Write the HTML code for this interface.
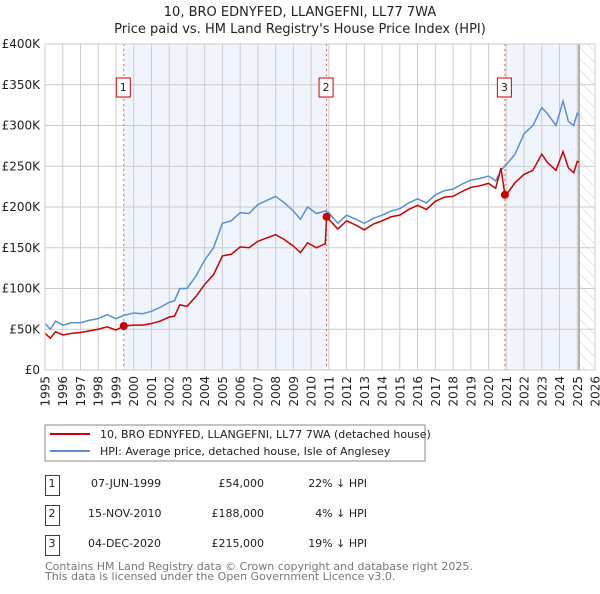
<!DOCTYPE html>
<html><head><meta charset="utf-8"><style>
body{margin:0;background:#fff;font-family:"DejaVu Sans","Liberation Sans",sans-serif;}
svg text{font-family:"DejaVu Sans","Liberation Sans",sans-serif;}
</style></head><body>
<svg id="chart" width="600" height="590" viewBox="0 0 600 590" xmlns="http://www.w3.org/2000/svg">
<defs><pattern id="hatch" width="8" height="8" patternUnits="userSpaceOnUse" patternTransform="rotate(-45)"><line x1="0" y1="0" x2="0" y2="8" stroke="#ccc" stroke-width="1"/></pattern></defs>
<text x="300" y="16" text-anchor="middle" font-size="13" fill="#222">10, BRO EDNYFED, LLANGEFNI, LL77 7WA</text>
<text x="300" y="33" text-anchor="middle" font-size="13" fill="#222">Price paid vs. HM Land Registry's House Price Index (HPI)</text>
<g id="plot"></g>
<rect x="45" y="425" width="380" height="36" fill="#fff" stroke="#888"/>
<line x1="50" y1="434" x2="90" y2="434" stroke="#cc0000" stroke-width="2"/>
<text x="100" y="438" font-size="11" fill="#222">10, BRO EDNYFED, LLANGEFNI, LL77 7WA (detached house)</text>
<line x1="50" y1="451" x2="90" y2="451" stroke="#5b8fd4" stroke-width="2"/>
<text x="100" y="455" font-size="11" fill="#222">HPI: Average price, detached house, Isle of Anglesey</text>
<g font-size="11" fill="#222">
<rect x="45.5" y="475.5" width="14" height="20" fill="none" stroke="#cc0000"/><text x="52" y="487" text-anchor="middle">1</text>
<text x="91" y="487">07-JUN-1999</text><text x="264" y="487" text-anchor="end">£54,000</text><text x="367" y="487" text-anchor="end">22% ↓ HPI</text>
<rect x="45.5" y="505.5" width="14" height="20" fill="none" stroke="#cc0000"/><text x="52" y="517" text-anchor="middle">2</text>
<text x="88" y="517">15-NOV-2010</text><text x="264" y="517" text-anchor="end">£188,000</text><text x="367" y="517" text-anchor="end">4% ↓ HPI</text>
<rect x="45.5" y="535.5" width="14" height="20" fill="none" stroke="#cc0000"/><text x="52" y="547" text-anchor="middle">3</text>
<text x="88" y="547">04-DEC-2020</text><text x="264" y="547" text-anchor="end">£215,000</text><text x="367" y="547" text-anchor="end">19% ↓ HPI</text>
</g>
<text x="45" y="570" font-size="11" fill="#777">Contains HM Land Registry data © Crown copyright and database right 2025.</text>
<text x="45" y="580" font-size="11" fill="#777">This data is licensed under the Open Government Licence v3.0.</text>
</svg>
<script>
const hpiYears=[1995,1995.3,1995.6,1996,1996.5,1997,1997.5,1998,1998.5,1999,1999.44,2000,2000.5,2001,2001.5,2002,2002.3,2002.6,2003,2003.5,2004,2004.5,2005,2005.5,2006,2006.5,2007,2007.5,2008,2008.5,2009,2009.4,2009.8,2010.3,2010.8,2011,2011.5,2012,2012.5,2013,2013.5,2014,2014.5,2015,2015.5,2016,2016.5,2017,2017.5,2018,2018.5,2019,2019.5,2020,2020.4,2020.7,2021,2021.5,2022,2022.5,2023,2023.3,2023.8,2024.2,2024.5,2024.8,2025,2025.1];
const hpiValues=[57,50,60,55,58,58,61,63,68,63,67,70,69,72,77,83,85,100,100,115,135,150,180,183,193,192,203,208,213,205,195,185,200,192,195,193,180,190,185,180,186,190,195,198,205,210,205,215,220,222,228,233,235,238,232,245,252,265,290,300,322,315,300,330,305,300,315,313];
const propYears=[1995,1995.3,1995.6,1996,1996.5,1997,1997.5,1998,1998.5,1999,1999.44,2000,2000.5,2001,2001.5,2002,2002.3,2002.6,2003,2003.5,2004,2004.5,2005,2005.5,2006,2006.5,2007,2007.5,2008,2008.5,2009,2009.4,2009.8,2010.3,2010.8,2010.87,2011,2011.5,2012,2012.5,2013,2013.5,2014,2014.5,2015,2015.5,2016,2016.5,2017,2017.5,2018,2018.5,2019,2019.5,2020,2020.4,2020.7,2020.92,2021,2021.5,2022,2022.5,2023,2023.3,2023.8,2024.2,2024.5,2024.8,2025,2025.1];
const propValues=[45,39,47,43,45,46,48,50,53,49,54,55,55,57,60,65,66,80,78,90,105,117,140,142,151,150,158,162,166,160,152,144,156,150,155,188,185,173,183,178,172,179,183,188,190,197,202,197,207,212,213,219,224,226,229,223,248,215,215,230,240,245,265,255,245,268,248,242,256,255];
const saleYears=[1999.44,2010.87,2020.92];
const saleValues=[54,188,215];
const saleLabels=["1","2","3"];
const yTicks=[0,50,100,150,200,250,300,350,400];
const yTickLabels=["£0","£50K","£100K","£150K","£200K","£250K","£300K","£350K","£400K"];
const xTicks=[1995,1996,1997,1998,1999,2000,2001,2002,2003,2004,2005,2006,2007,2008,2009,2010,2011,2012,2013,2014,2015,2016,2017,2018,2019,2020,2021,2022,2023,2024,2025,2026];
const dataEnd=2025.1;

const X0=45,X1=595,Y0=370,Y1=44;
const xs=v=>X0+(v-1995)/(2026-1995)*(X1-X0);
const ys=v=>Y0-v/400*(Y0-Y1);
const NS="http://www.w3.org/2000/svg";
const g=document.getElementById('plot');
function mk(tag,attrs,parent){const e=document.createElementNS(NS,tag);for(const k in attrs)e.setAttribute(k,attrs[k]);(parent||g).appendChild(e);return e;}

const bg=mk('rect',{x:X0,y:Y1,width:X1-X0,height:Y0-Y1,fill:'#fff'});


const sh1=mk('rect',{x:xs(saleYears[0]),y:Y1,width:xs(saleYears[1])-xs(saleYears[0]),height:Y0-Y1,fill:'#f0f4fd'});


const sh2=mk('rect',{x:xs(saleYears[2]),y:Y1,width:xs(dataEnd)-xs(saleYears[2]),height:Y0-Y1,fill:'#f0f4fd'});


const ht=mk('rect',{x:xs(dataEnd),y:Y1,width:X1-xs(dataEnd),height:Y0-Y1,fill:'url(#hatch)'});



xTicks.forEach(t=>{
  const l=mk('line',{x1:xs(t),y1:Y1,x2:xs(t),y2:Y0,stroke:'#ccc','stroke-width':1});
  
  
  const tx=mk('text',{x:0,y:0,'font-size':12,fill:'#222','text-anchor':'end',transform:`translate(${xs(t)+4.5},376) rotate(-90)`});
  tx.textContent=t;
  
  
});
yTicks.forEach((t,i)=>{
  const l=mk('line',{x1:X0,y1:ys(t),x2:X1,y2:ys(t),stroke:'#ccc','stroke-width':1});
  
  
  const tx=mk('text',{x:40,y:ys(t)+4,'font-size':12,fill:'#222','text-anchor':'end'});
  tx.textContent=yTickLabels[i];
  
  
});
const el=mk('line',{x1:xs(dataEnd),y1:Y1,x2:xs(dataEnd),y2:Y0,stroke:'#999','stroke-width':1.5});



saleYears.forEach((s,i)=>{
  const l=mk('line',{x1:xs(s),y1:Y1,x2:xs(s),y2:Y0,stroke:'#e06060','stroke-width':1,'stroke-dasharray':'2,3'});
  
  
  const b=mk('rect',{x:xs(s)-7.5,y:78,width:14,height:19,fill:'#fff',stroke:'#cc0000'});
  
  
  const t=mk('text',{x:xs(s)-0.5,y:91,'font-size':11,fill:'#222','text-anchor':'middle'});
  t.textContent=saleLabels[i];
  
  
});

const hp=mk('polyline',{points:hpiYears.map((y,i)=>xs(y)+','+ys(hpiValues[i])).join(' '),fill:'none',stroke:'#5b8fd4','stroke-width':1.5});


const pp=mk('polyline',{points:propYears.map((y,i)=>xs(y)+','+ys(propValues[i])).join(' '),fill:'none',stroke:'#cc0000','stroke-width':1.5});


saleYears.forEach((s,i)=>{
  const c=mk('circle',{cx:xs(s),cy:ys(saleValues[i]),r:4,fill:'#cc0000'});
  
  
});
const fr=mk('rect',{x:X0,y:Y1,width:X1-X0,height:Y0-Y1,fill:'none',stroke:'#ccc'});


</script>
</body></html>
